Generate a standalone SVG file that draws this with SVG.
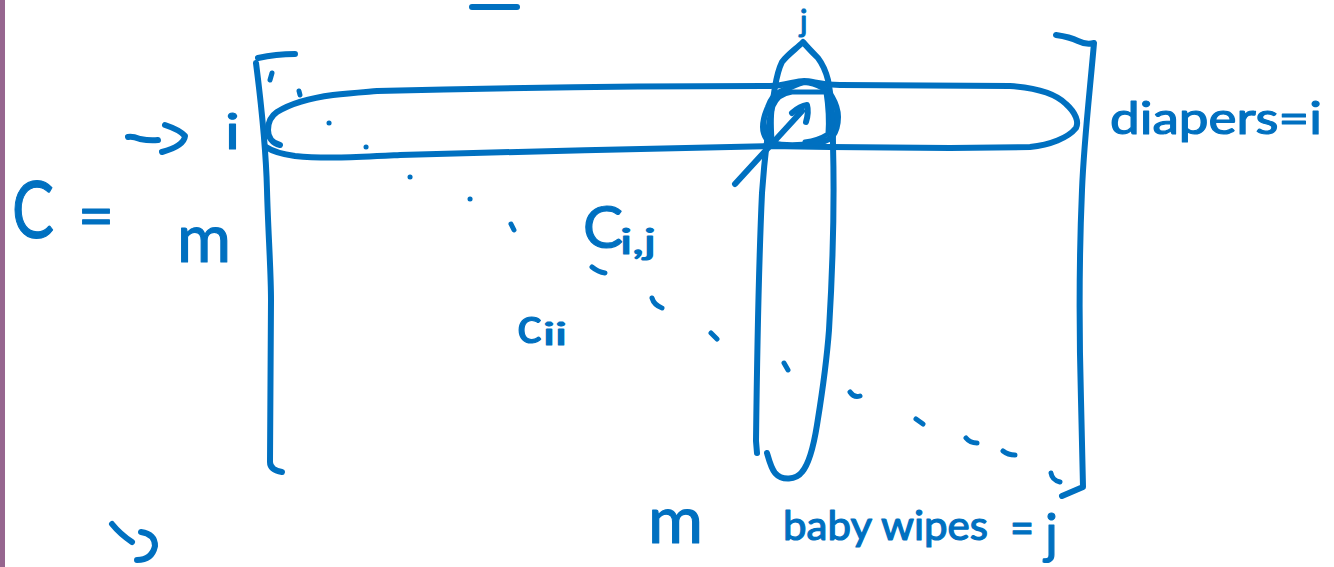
<svg xmlns="http://www.w3.org/2000/svg" width="1334" height="567" viewBox="0 0 1334 567">
<style>
.ink{fill:none;stroke:#0070c0;stroke-width:6;stroke-linecap:round;stroke-linejoin:round}
.thin{stroke-width:5}
.dot{fill:none;stroke:#0070c0;stroke-width:5;stroke-linecap:round;stroke-linejoin:round}
text{font-family:"Lato","Open Sans",sans-serif;fill:#0070c0;font-weight:400;stroke:#0070c0;stroke-width:1.2;stroke-linejoin:round}
</style>
<rect width="1334" height="567" fill="#ffffff"/>
<rect x="0" y="0" width="5" height="567" fill="#96668f"/>
<g id="matrix-brackets">
<path class="ink" d="M258 58 Q276 54 295 54"/>
<path class="ink" d="M256 63 C262 110 266 150 267 190 C268 230 271 270 271 300 L270 462 Q270 470 282 472"/>
<path class="ink" d="M1056 35 Q1070 37 1078 41 Q1086 45 1094 43 C1090 90 1084 140 1082 190 C1079 260 1079 330 1081 400 L1083 487 L1062 496"/>
<path class="ink" d="M472 7 H517"/>
</g>
<g id="row-i-ellipse">
<path class="ink" d="M280 145 C272 143 268 137 268 130 C268 122 271 116 277 112 C290 104 310 98 333 95 C350 93 365 92 377 91 C500 88 620 86 770 86 C785 86 795 81 804 81 C813 81 820 85 840 85 L1010 86 C1040 88 1056 94 1066 104 C1076 113 1079 122 1076 128 C1068 138 1050 145 1030 147 L950 148 L830 147 L770 146 C650 149 520 151 400 155 C360 157 325 159 295 156 C280 154 272 151 266 147"/>
</g>
<g id="column-j-ellipse">
<path class="ink" d="M757 453 L756 441 C757 360 758 280 762 193 C765 150 770 115 775 87 C777 75 779 68 782 62 C788 54 796 49 803 42 C808 48 813 53 818 58 C824 66 826 72 828 80 C832 100 833 120 833 145 C835 220 832 280 829 330 C826 370 821 400 817 425 C813 450 808 465 802 472 C796 480 782 481 775 473 C771 468 769 460 767 453"/>
</g>
<g id="cell-ij-circle">
<path class="ink" d="M770 143 C765 138 763 133 763 127 C763 118 766 112 768 107 C771 98 776 94 780 92 C788 88 796 84 804 82 C818 83 828 90 832 97 C836 104 838 110 838 117 C838 126 836 132 832 137 C826 142 820 143 813 143 C800 146 785 146 770 143"/>
<path class="ink thin" d="M772 140 C771 125 771 112 773 106 C777 96 785 93 792 92 L826 92 C828 105 829 120 828 134 C820 139 812 141 805 142"/>
</g>
<g id="connectors">
<path class="ink" d="M735 184 L802 111"/>
<path class="ink" d="M792 113 Q800 106 807 105 Q809 112 806 122"/>
<path class="ink" d="M128 137 Q132 136 140 139 Q150 141 158 140"/>
<path class="ink" d="M165 125 Q180 130 185 136 Q184 146 162 152"/>
<path class="ink" d="M112 524 Q120 534 132 542"/>
<path class="ink" d="M141 532 Q155 534 155 546 Q152 560 137 560"/>
</g>
<g id="diagonal-dots">
<path class="dot" d="M272 73 L270 80M299 91 L300 95M329 123 h.1M366 147 h.1M410 177 h.1M470 199 h.1M511 224 L514 230M592 267 Q598 272 605 273M652 298 Q654 305 662 308M711 333 L717 339M784 363 L788 370M850 392 Q854 398 860 396M916 419 L923 424M966 438 Q970 443 977 443M1003 451 Q1008 455 1015 455M1051 473 Q1052 480 1060 482"/>
</g>
<g id="labels">
<text x="12" y="238" font-size="80" textLength="42" lengthAdjust="spacingAndGlyphs">C</text>
<text x="78" y="238" font-size="62" textLength="36" lengthAdjust="spacingAndGlyphs">=</text>
<text x="225" y="149" font-size="48" textLength="15" lengthAdjust="spacingAndGlyphs">i</text>
<text x="800" y="32" font-size="31">j</text>
<text x="177" y="262" font-size="68" textLength="54" lengthAdjust="spacingAndGlyphs">m</text>
<text x="648" y="543" font-size="66" textLength="55" lengthAdjust="spacingAndGlyphs">m</text>
<text x="1110" y="134" font-size="44" textLength="212" lengthAdjust="spacingAndGlyphs">diapers=i</text>
<text x="783" y="540" font-size="40" textLength="205" lengthAdjust="spacingAndGlyphs">baby wipes</text>
<text x="1010" y="544" font-size="46" textLength="24" lengthAdjust="spacingAndGlyphs">=</text>
<text x="1045" y="553" font-size="54">j</text>
<text x="583" y="248" font-size="58" textLength="40" lengthAdjust="spacingAndGlyphs">C</text>
<text x="620" y="254" font-size="34" textLength="36" lengthAdjust="spacingAndGlyphs">i,j</text>
<text x="517" y="343" font-size="50" textLength="25" lengthAdjust="spacingAndGlyphs">c</text>
<text x="543" y="345" font-size="30" textLength="24" lengthAdjust="spacingAndGlyphs">ii</text>
</g>
</svg>
